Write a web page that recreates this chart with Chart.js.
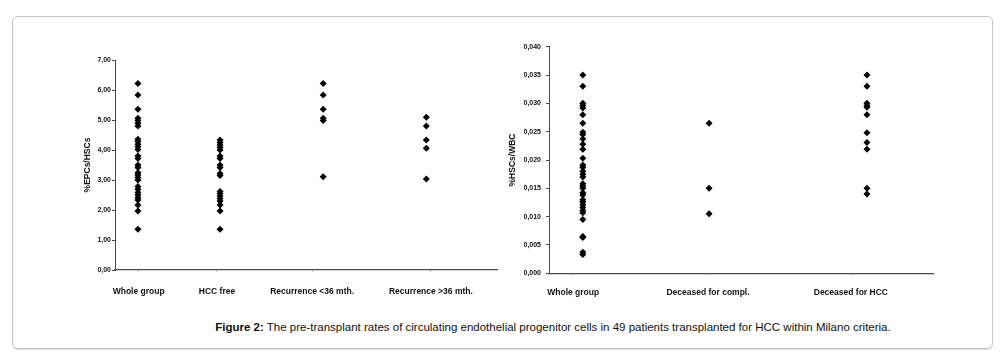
<!DOCTYPE html>
<html>
<head>
<meta charset="utf-8">
<script src="https://cdn.jsdelivr.net/npm/chart.js@4/dist/chart.umd.min.js"></script>
<style>
  html, body { margin: 0; padding: 0; background: #fff; }
  body { width: 1004px; height: 353px; position: relative; overflow: hidden; font-family: "Liberation Sans", Arial, sans-serif; }
  #panel { position: absolute; left: 12px; top: 16px; width: 979px; height: 331px; border: 1px solid #c4c4c4; border-radius: 6px; box-shadow: 0 1px 1px rgba(0,0,0,0.15); }
  .box { position: absolute; }
  #boxLeft { left: 79px; top: 50px; width: 426px; height: 260px; }
  #boxRight { left: 504px; top: 35px; width: 436px; height: 275px; }
  #caption { position: absolute; left: 0; width: 1106px; top: 321px; text-align: center; font-size: 11.5px; color: #111; }
</style>
</head>
<body>
<div id="panel"></div>
<div class="box" id="boxLeft"><canvas id="chartLeft"></canvas></div>
<div class="box" id="boxRight"><canvas id="chartRight"></canvas></div>
<div id="caption"><b>Figure 2:</b> The pre-transplant rates of circulating endothelial progenitor cells in 49 patients transplanted for HCC within Milano criteria.</div>
<script>
// left panel: %EPCs/HSCs
const leftCats = ["Whole group", "HCC free", "Recurrence <36 mth.", "Recurrence >36 mth."];
const leftX = [6, 27.5, 54.5, 81.5];
const epcWhole = [6.22, 5.83, 5.36, 5.06, 4.98, 4.89, 4.80, 4.36, 4.28, 4.19, 4.11, 4.02, 3.80, 3.72, 3.50, 3.42,
  3.24, 3.17, 3.08, 3.00, 2.78, 2.69, 2.58, 2.50, 2.41, 2.33, 2.17, 1.97, 1.36];
const epcFree = [4.33, 4.25, 4.17, 4.08, 4.00, 3.80, 3.72, 3.50, 3.42, 3.22, 3.15, 2.62, 2.55, 2.47, 2.38, 2.30, 2.17, 1.97, 1.36];
const epcRecEarly = [6.22, 5.83, 5.36, 5.06, 4.98, 3.11];
const epcRecLate = [5.09, 4.80, 4.33, 4.06, 3.03];

// right panel: %HSCs/WBC
const rightCats = ["Whole group", "Deceased for compl.", "Deceased for HCC"];
const rightX = [8.8, 41.7, 82.8];
const hscWhole = [0.0350, 0.0330, 0.0300, 0.0296, 0.0292, 0.0280, 0.0265, 0.0249, 0.0245, 0.0237, 0.0228, 0.0219,
  0.0203, 0.0191, 0.0187, 0.0180, 0.0175, 0.0170, 0.0158, 0.0154, 0.0150, 0.0142, 0.0138, 0.0130, 0.0126,
  0.0121, 0.0116, 0.0111, 0.0107, 0.0095, 0.0065, 0.0063, 0.0037, 0.0033];
const hscCompl = [0.0265, 0.0150, 0.0105];
const hscHcc = [0.0350, 0.0330, 0.0300, 0.0296, 0.0293, 0.0280, 0.0248, 0.0231, 0.0219, 0.0150, 0.0140];

const AXIS = "#4a4a4a";
const FONT = "'Liberation Sans', Arial, sans-serif";

function toPoints(xs, groups) {
  const pts = [];
  groups.forEach((vals, i) => vals.forEach((v) => pts.push({ x: xs[i], y: v })));
  return pts;
}

function createDotChart(canvasId, opts) {
  const ctx = document.getElementById(canvasId);
  new Chart(ctx, {
    type: "scatter",
    data: {
      datasets: [
        {
          data: toPoints(opts.xs, opts.groups),
          pointStyle: "rectRot",
          pointRadius: 3.5,
          backgroundColor: "#000",
          borderColor: "#000",
          borderWidth: 0,
        },
      ],
    },
    options: {
      responsive: true,
      maintainAspectRatio: false,
      animation: false,
      layout: { padding: opts.padding },
      plugins: { legend: { display: false }, tooltip: { enabled: false } },
      scales: {
        x: {
          type: "linear",
          min: 0,
          max: 100,
          // the labels sit a little off the dot columns, as in the original
          afterBuildTicks: (scale) => {
            scale.ticks = opts.labelAt.map((v) => ({ value: v }));
          },
          afterFit: (scale) => {
            scale.height = opts.xAxisHeight;
          },
          ticks: {
            autoSkip: false,
            maxRotation: 0,
            padding: opts.xPad,
            color: "#111",
            font: { family: FONT, size: 8.5, weight: "bold" },
            callback: (v, i) => opts.cats[i],
          },
          grid: { drawOnChartArea: false, tickLength: 2, color: "#bbb" },
          border: { color: AXIS, width: 1.2 },
        },
        y: {
          min: 0,
          max: opts.yMax,
          afterBuildTicks: (scale) => {
            const t = [];
            for (let i = 0; i <= opts.yMax / opts.step + 1e-6; i++) t.push({ value: i * opts.step });
            scale.ticks = t;
          },
          afterFit: (scale) => {
            scale.width = opts.yAxisWidth;
          },
          ticks: {
            padding: opts.yPad,
            color: "#111",
            font: { family: FONT, size: 7, weight: "bold" },
            callback: (v) => v.toFixed(opts.decimals).replace(".", ","),
          },
          grid: { drawOnChartArea: false, tickLength: 3, color: AXIS },
          border: { color: AXIS, width: 1 },
          title: {
            display: true,
            text: opts.yTitle,
            color: "#111",
            font: { family: FONT, size: 8.5, weight: "bold" },
            padding: { top: 4, bottom: 0 },
          },
        },
      },
    },
  });
}

function init() {
  createDotChart("chartLeft", {
    cats: leftCats,
    xs: leftX,
    labelAt: [6.2, 26.7, 51.6, 82.7],
    groups: [epcWhole, epcFree, epcRecEarly, epcRecLate],
    yMax: 7,
    step: 1,
    decimals: 2,
    yTitle: "%EPCs/HSCs",
    yAxisWidth: 36,
    xAxisHeight: 40,
    xPad: 15,
    yPad: 1,
    padding: { top: 10, right: 8, left: 0, bottom: 0 },
  });
  createDotChart("chartRight", {
    cats: rightCats,
    xs: rightX,
    labelAt: [6.3, 41.4, 78.6],
    groups: [hscWhole, hscCompl, hscHcc],
    yMax: 0.04,
    step: 0.005,
    decimals: 3,
    yTitle: "%HSCs/WBC",
    yAxisWidth: 45,
    xAxisHeight: 36.7,
    xPad: 12,
    yPad: 5,
    padding: { top: 11.7, right: 7, left: 0, bottom: 0 },
  });
}

window.addEventListener("DOMContentLoaded", init);
</script>
</body>
</html>
